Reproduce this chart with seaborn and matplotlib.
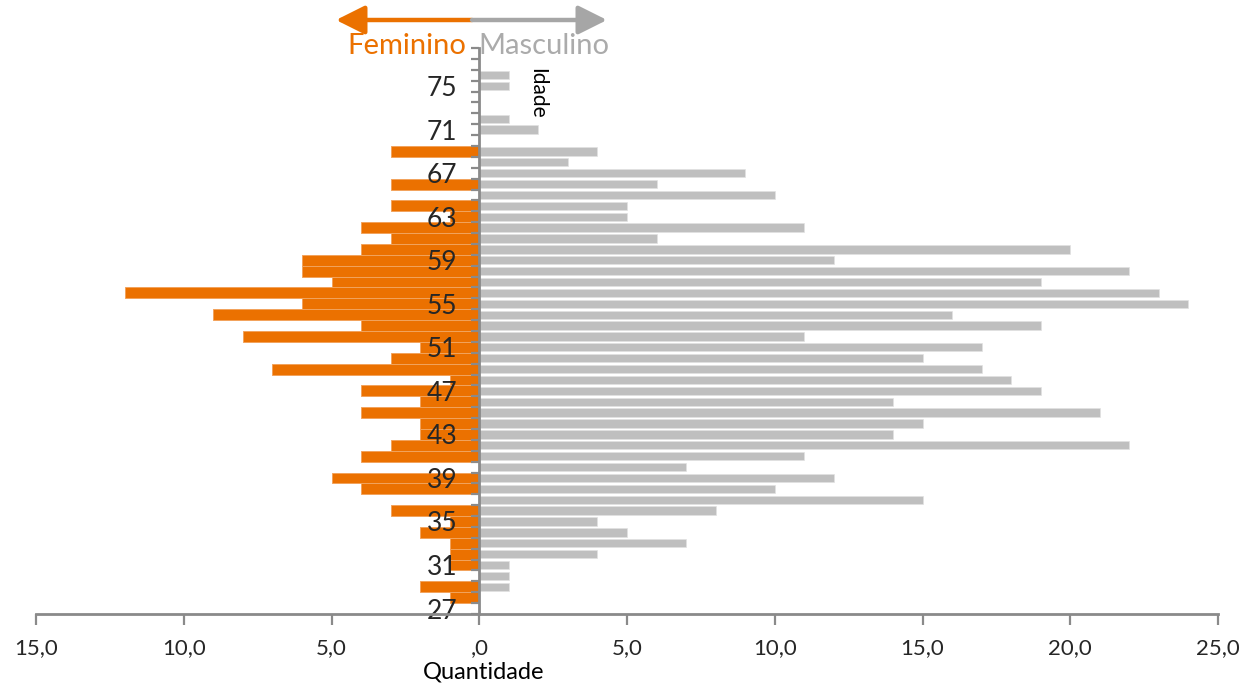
import numpy as np
import pandas as pd
import matplotlib
matplotlib.use("Agg")
import matplotlib.pyplot as plt
import seaborn as sns
from matplotlib.patches import FancyArrowPatch

# ---- data ----
ages = list(range(27, 79))
feminino = [0, 1, 2, 0, 1, 1, 1, 2, 1, 3,   # 27-36
            0, 4, 5, 0, 4, 3, 2, 2, 4, 2,   # 37-46
            4, 1, 7, 3, 2, 8, 4, 9, 6, 12,  # 47-56
            5, 6, 6, 4, 3, 4, 1, 3, 0, 3,   # 57-66
            0, 0, 3, 0, 0, 0, 0, 0, 0, 0,   # 67-76
            0, 0]                           # 77-78
masculino = [0, 0, 1, 1, 1, 4, 7, 5, 4, 8,      # 27-36
             15, 10, 12, 7, 11, 22, 14, 15, 21, 14,  # 37-46
             19, 18, 17, 15, 17, 11, 19, 16, 24, 23,  # 47-56
             19, 22, 12, 20, 6, 11, 5, 5, 10, 6,     # 57-66
             9, 3, 4, 0, 2, 1, 0, 0, 1, 1,           # 67-76
             0, 0]                                   # 77-78
x_ticks = [-15, -10, -5, 0, 5, 10, 15, 20, 25]
x_tick_labels = ["15,0", "10,0", "5,0", ",0", "5,0", "10,0", "15,0", "20,0", "25,0"]
y_label_ages = list(range(27, 76, 4))

ORANGE = "#EB7100"
ORANGE_EDGE = "#F2A35C"
GRAY = "#BFBFBF"
AXIS = "#8A8A8A"
TXT = "#262626"

sns.set_theme(style="white")
plt.rcParams["font.family"] = ["Lato", "DejaVu Sans"]

W, H = 1245, 684
fig = plt.figure(figsize=(W / 100, H / 100), dpi=100)
ax = fig.add_axes([36 / W, 70 / H, (1218 - 36) / W, (614 - 48) / H])

df = pd.DataFrame({"age": ages,
                   "fem": [-v for v in feminino],
                   "masc": masculino})

sns.barplot(data=df, x="fem", y="age", orient="y", native_scale=True,
            color=ORANGE, saturation=1, width=1.0, errorbar=None,
            edgecolor=ORANGE_EDGE, linewidth=0.7, ax=ax)
sns.barplot(data=df, x="masc", y="age", orient="y", native_scale=True,
            color=GRAY, saturation=1, width=0.76, errorbar=None,
            edgecolor="#E2E2E2", linewidth=0.5, ax=ax)

ax.set_xlim(-15, 25)
ax.set_ylim(26.5, 78.5)
ax.set_xlabel("")
ax.set_ylabel("")
ax.set_axisbelow(False)

for s in ["top", "right"]:
    ax.spines[s].set_visible(False)
ax.spines["left"].set_position(("data", 0))
for s in ["left", "bottom"]:
    ax.spines[s].set_color(AXIS)
    ax.spines[s].set_linewidth(2.0)
    ax.spines[s].set_zorder(5)

ax.set_xticks(x_ticks)
ax.set_xticklabels(x_tick_labels)
ax.tick_params(axis="x", bottom=True, direction="out", length=8, width=1.6,
               color=AXIS, labelsize=16, labelcolor=TXT, pad=9)

ax.set_yticks(y_label_ages)
ax.set_yticklabels([str(a) for a in y_label_ages])
ax.set_yticks(np.arange(26.5, 79.0, 1.0), minor=True)
ax.tick_params(axis="y", which="major", left=True, length=0, pad=16,
               labelsize=19, labelcolor=TXT)
ax.tick_params(axis="y", which="minor", left=True, direction="out", length=6,
               width=1.6, color=AXIS)
ax.grid(False)

# header with arrows
y_arrow = 1 - 20 / H
fig.add_artist(FancyArrowPatch((472 / W, y_arrow), (336 / W, y_arrow),
                               transform=fig.transFigure,
                               arrowstyle="-|>,head_length=0.7,head_width=0.35",
                               mutation_scale=25, lw=3.2, color=ORANGE,
                               shrinkA=0, shrinkB=0))
fig.add_artist(FancyArrowPatch((472 / W, y_arrow), (607 / W, y_arrow),
                               transform=fig.transFigure,
                               arrowstyle="-|>,head_length=0.7,head_width=0.35",
                               mutation_scale=25, lw=3.2, color="#A6A6A6",
                               shrinkA=0, shrinkB=0))
fig.text(466 / W, 1 - 46 / H, "Feminino", ha="right", va="center",
         fontsize=21, color=ORANGE)
fig.text(478 / W, 1 - 46 / H, "Masculino", ha="left", va="center",
         fontsize=21, color="#ABABAB")

fig.text(484 / W, 1 - 672 / H, "Quantidade", ha="center", va="center",
         fontsize=17, color="black")
fig.text(537 / W, 1 - 93 / H, "Idade", ha="center", va="center",
         rotation=-90, fontsize=15, color="black")

fig.savefig("out.png", dpi=100)
